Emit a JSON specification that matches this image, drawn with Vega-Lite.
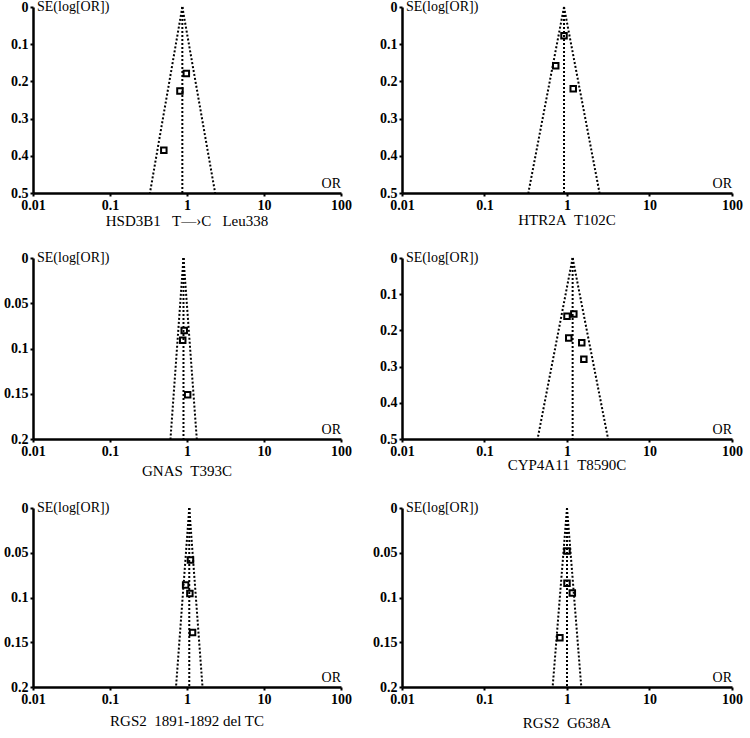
{
  "$schema": "https://vega.github.io/schema/vega-lite/v6.json",
  "padding": {"left": 3, "top": 0, "right": 5, "bottom": 3},
  "background": "white",
  "datasets": {
    "funnel": [
      {"panel": 1, "side": "L", "or": 0.87, "se": 0}, {"panel": 1, "side": "L", "or": 0.33, "se": 0.5},
      {"panel": 1, "side": "C", "or": 0.87, "se": 0}, {"panel": 1, "side": "C", "or": 0.87, "se": 0.5},
      {"panel": 1, "side": "R", "or": 0.87, "se": 0}, {"panel": 1, "side": "R", "or": 2.32, "se": 0.5},
      {"panel": 2, "side": "L", "or": 0.92, "se": 0}, {"panel": 2, "side": "L", "or": 0.34, "se": 0.5},
      {"panel": 2, "side": "C", "or": 0.92, "se": 0}, {"panel": 2, "side": "C", "or": 0.92, "se": 0.5},
      {"panel": 2, "side": "R", "or": 0.92, "se": 0}, {"panel": 2, "side": "R", "or": 2.48, "se": 0.5},
      {"panel": 3, "side": "L", "or": 0.9, "se": 0}, {"panel": 3, "side": "L", "or": 0.61, "se": 0.2},
      {"panel": 3, "side": "C", "or": 0.9, "se": 0}, {"panel": 3, "side": "C", "or": 0.9, "se": 0.2},
      {"panel": 3, "side": "R", "or": 0.9, "se": 0}, {"panel": 3, "side": "R", "or": 1.34, "se": 0.2},
      {"panel": 4, "side": "L", "or": 1.17, "se": 0}, {"panel": 4, "side": "L", "or": 0.44, "se": 0.5},
      {"panel": 4, "side": "C", "or": 1.17, "se": 0}, {"panel": 4, "side": "C", "or": 1.17, "se": 0.5},
      {"panel": 4, "side": "R", "or": 1.17, "se": 0}, {"panel": 4, "side": "R", "or": 3.15, "se": 0.5},
      {"panel": 5, "side": "L", "or": 1.07, "se": 0}, {"panel": 5, "side": "L", "or": 0.72, "se": 0.2},
      {"panel": 5, "side": "C", "or": 1.07, "se": 0}, {"panel": 5, "side": "C", "or": 1.07, "se": 0.2},
      {"panel": 5, "side": "R", "or": 1.07, "se": 0}, {"panel": 5, "side": "R", "or": 1.59, "se": 0.2},
      {"panel": 6, "side": "L", "or": 1.0, "se": 0}, {"panel": 6, "side": "L", "or": 0.67, "se": 0.2},
      {"panel": 6, "side": "C", "or": 1.0, "se": 0}, {"panel": 6, "side": "C", "or": 1.0, "se": 0.2},
      {"panel": 6, "side": "R", "or": 1.0, "se": 0}, {"panel": 6, "side": "R", "or": 1.49, "se": 0.2}
    ],
    "studies": [
      {"panel": 1, "or": 0.98, "se": 0.179}, {"panel": 1, "or": 0.81, "se": 0.226}, {"panel": 1, "or": 0.5, "se": 0.385},
      {"panel": 2, "or": 0.92, "se": 0.077}, {"panel": 2, "or": 0.73, "se": 0.158}, {"panel": 2, "or": 1.19, "se": 0.22},
      {"panel": 3, "or": 0.92, "se": 0.08}, {"panel": 3, "or": 0.88, "se": 0.091}, {"panel": 3, "or": 1.02, "se": 0.151},
      {"panel": 4, "or": 1.0, "se": 0.161}, {"panel": 4, "or": 1.21, "se": 0.155}, {"panel": 4, "or": 1.05, "se": 0.221}, {"panel": 4, "or": 1.51, "se": 0.234}, {"panel": 4, "or": 1.6, "se": 0.28},
      {"panel": 5, "or": 1.11, "se": 0.058}, {"panel": 5, "or": 0.96, "se": 0.086}, {"panel": 5, "or": 1.09, "se": 0.0955}, {"panel": 5, "or": 1.18, "se": 0.139},
      {"panel": 6, "or": 1.0, "se": 0.048}, {"panel": 6, "or": 1.0, "se": 0.084}, {"panel": 6, "or": 1.16, "se": 0.095}, {"panel": 6, "or": 0.82, "se": 0.145}
    ]
  },
  "columns": 2,
  "align": "each",
  "spacing": {"row": 22, "column": 20},
  "concat": [
    {
      "width": 308, "height": 186,
      "title": {"text": "HSD3B1\u00a0\u00a0\u00a0T\u2014\u203aC\u00a0\u00a0\u00a0Leu338", "orient": "bottom", "offset": 2},
      "encoding": {
        "x": {"field": "or", "type": "quantitative", "scale": {"type": "log", "domain": [0.01, 100]}, "axis": {"values": [0.01, 0.1, 1, 10, 100], "format": "~g", "labelFlush": false, "title": null}},
        "y": {"field": "se", "type": "quantitative", "scale": {"domain": [0, 0.5], "reverse": true, "nice": false, "zero": false}, "axis": {"values": [0, 0.1, 0.2, 0.3, 0.4, 0.5], "format": "~g", "labelOverlap": false, "title": null}}
      },
      "layer": [
        {"data": {"name": "funnel"}, "transform": [{"filter": "datum.panel == 1"}],
         "mark": {"type": "line", "strokeDash": [2, 2], "strokeWidth": 2, "color": "black"},
         "encoding": {"detail": {"field": "side"}, "order": {"field": "se"}}},
        {"data": {"name": "studies"}, "transform": [{"filter": "datum.panel == 1"}],
         "mark": {"type": "point", "shape": "square", "filled": false, "color": "black", "size": 30, "strokeWidth": 2, "opacity": 1}},
        {"data": {"values": [{"or": 0.01, "se": 0}]}, "mark": {"type": "text", "align": "left", "baseline": "middle", "dx": 4},
         "encoding": {"text": {"value": "SE(log[OR])"}}},
        {"data": {"values": [{"or": 100, "se": 0.5}]}, "mark": {"type": "text", "align": "right", "baseline": "bottom", "dy": -2},
         "encoding": {"text": {"value": "OR"}}}
      ]
    },
    {
      "width": 330, "height": 186,
      "title": {"text": "HTR2A\u00a0\u00a0T102C", "orient": "bottom", "offset": 1},
      "encoding": {
        "x": {"field": "or", "type": "quantitative", "scale": {"type": "log", "domain": [0.01, 100]}, "axis": {"values": [0.01, 0.1, 1, 10, 100], "format": "~g", "labelFlush": false, "title": null}},
        "y": {"field": "se", "type": "quantitative", "scale": {"domain": [0, 0.5], "reverse": true, "nice": false, "zero": false}, "axis": {"values": [0, 0.1, 0.2, 0.3, 0.4, 0.5], "format": "~g", "labelOverlap": false, "title": null}}
      },
      "layer": [
        {"data": {"name": "funnel"}, "transform": [{"filter": "datum.panel == 2"}],
         "mark": {"type": "line", "strokeDash": [2, 2], "strokeWidth": 2, "color": "black"},
         "encoding": {"detail": {"field": "side"}, "order": {"field": "se"}}},
        {"data": {"name": "studies"}, "transform": [{"filter": "datum.panel == 2"}],
         "mark": {"type": "point", "shape": "square", "filled": false, "color": "black", "size": 30, "strokeWidth": 2, "opacity": 1}},
        {"data": {"values": [{"or": 0.01, "se": 0}]}, "mark": {"type": "text", "align": "left", "baseline": "middle", "dx": 4},
         "encoding": {"text": {"value": "SE(log[OR])"}}},
        {"data": {"values": [{"or": 100, "se": 0.5}]}, "mark": {"type": "text", "align": "right", "baseline": "bottom", "dy": -2},
         "encoding": {"text": {"value": "OR"}}}
      ]
    },
    {
      "width": 308, "height": 181,
      "title": {"text": "GNAS\u00a0\u00a0T393C", "orient": "bottom", "offset": 6},
      "encoding": {
        "x": {"field": "or", "type": "quantitative", "scale": {"type": "log", "domain": [0.01, 100]}, "axis": {"values": [0.01, 0.1, 1, 10, 100], "format": "~g", "labelFlush": false, "title": null}},
        "y": {"field": "se", "type": "quantitative", "scale": {"domain": [0, 0.2], "reverse": true, "nice": false, "zero": false}, "axis": {"values": [0, 0.05, 0.1, 0.15, 0.2], "format": "~g", "labelOverlap": false, "title": null}}
      },
      "layer": [
        {"data": {"name": "funnel"}, "transform": [{"filter": "datum.panel == 3"}],
         "mark": {"type": "line", "strokeDash": [2, 2], "strokeWidth": 2, "color": "black"},
         "encoding": {"detail": {"field": "side"}, "order": {"field": "se"}}},
        {"data": {"name": "studies"}, "transform": [{"filter": "datum.panel == 3"}],
         "mark": {"type": "point", "shape": "square", "filled": false, "color": "black", "size": 30, "strokeWidth": 2, "opacity": 1}},
        {"data": {"values": [{"or": 0.01, "se": 0}]}, "mark": {"type": "text", "align": "left", "baseline": "middle", "dx": 4},
         "encoding": {"text": {"value": "SE(log[OR])"}}},
        {"data": {"values": [{"or": 100, "se": 0.2}]}, "mark": {"type": "text", "align": "right", "baseline": "bottom", "dy": -2},
         "encoding": {"text": {"value": "OR"}}}
      ]
    },
    {
      "width": 330, "height": 181,
      "title": {"text": "CYP4A11\u00a0\u00a0T8590C", "orient": "bottom", "offset": 0},
      "encoding": {
        "x": {"field": "or", "type": "quantitative", "scale": {"type": "log", "domain": [0.01, 100]}, "axis": {"values": [0.01, 0.1, 1, 10, 100], "format": "~g", "labelFlush": false, "title": null}},
        "y": {"field": "se", "type": "quantitative", "scale": {"domain": [0, 0.5], "reverse": true, "nice": false, "zero": false}, "axis": {"values": [0, 0.1, 0.2, 0.3, 0.4, 0.5], "format": "~g", "labelOverlap": false, "title": null}}
      },
      "layer": [
        {"data": {"name": "funnel"}, "transform": [{"filter": "datum.panel == 4"}],
         "mark": {"type": "line", "strokeDash": [2, 2], "strokeWidth": 2, "color": "black"},
         "encoding": {"detail": {"field": "side"}, "order": {"field": "se"}}},
        {"data": {"name": "studies"}, "transform": [{"filter": "datum.panel == 4"}],
         "mark": {"type": "point", "shape": "square", "filled": false, "color": "black", "size": 30, "strokeWidth": 2, "opacity": 1}},
        {"data": {"values": [{"or": 0.01, "se": 0}]}, "mark": {"type": "text", "align": "left", "baseline": "middle", "dx": 4},
         "encoding": {"text": {"value": "SE(log[OR])"}}},
        {"data": {"values": [{"or": 100, "se": 0.5}]}, "mark": {"type": "text", "align": "right", "baseline": "bottom", "dy": -2},
         "encoding": {"text": {"value": "OR"}}}
      ]
    },
    {
      "width": 308, "height": 179,
      "title": {"text": "RGS2\u00a0\u00a01891-1892 del TC", "orient": "bottom", "offset": 8},
      "encoding": {
        "x": {"field": "or", "type": "quantitative", "scale": {"type": "log", "domain": [0.01, 100]}, "axis": {"values": [0.01, 0.1, 1, 10, 100], "format": "~g", "labelFlush": false, "title": null}},
        "y": {"field": "se", "type": "quantitative", "scale": {"domain": [0, 0.2], "reverse": true, "nice": false, "zero": false}, "axis": {"values": [0, 0.05, 0.1, 0.15, 0.2], "format": "~g", "labelOverlap": false, "title": null}}
      },
      "layer": [
        {"data": {"name": "funnel"}, "transform": [{"filter": "datum.panel == 5"}],
         "mark": {"type": "line", "strokeDash": [2, 2], "strokeWidth": 2, "color": "black"},
         "encoding": {"detail": {"field": "side"}, "order": {"field": "se"}}},
        {"data": {"name": "studies"}, "transform": [{"filter": "datum.panel == 5"}],
         "mark": {"type": "point", "shape": "square", "filled": false, "color": "black", "size": 30, "strokeWidth": 2, "opacity": 1}},
        {"data": {"values": [{"or": 0.01, "se": 0}]}, "mark": {"type": "text", "align": "left", "baseline": "middle", "dx": 4},
         "encoding": {"text": {"value": "SE(log[OR])"}}},
        {"data": {"values": [{"or": 100, "se": 0.2}]}, "mark": {"type": "text", "align": "right", "baseline": "bottom", "dy": -2},
         "encoding": {"text": {"value": "OR"}}}
      ]
    },
    {
      "width": 330, "height": 179,
      "title": {"text": "RGS2\u00a0\u00a0G638A", "orient": "bottom", "offset": 10},
      "encoding": {
        "x": {"field": "or", "type": "quantitative", "scale": {"type": "log", "domain": [0.01, 100]}, "axis": {"values": [0.01, 0.1, 1, 10, 100], "format": "~g", "labelFlush": false, "title": null}},
        "y": {"field": "se", "type": "quantitative", "scale": {"domain": [0, 0.2], "reverse": true, "nice": false, "zero": false}, "axis": {"values": [0, 0.05, 0.1, 0.15, 0.2], "format": "~g", "labelOverlap": false, "title": null}}
      },
      "layer": [
        {"data": {"name": "funnel"}, "transform": [{"filter": "datum.panel == 6"}],
         "mark": {"type": "line", "strokeDash": [2, 2], "strokeWidth": 2, "color": "black"},
         "encoding": {"detail": {"field": "side"}, "order": {"field": "se"}}},
        {"data": {"name": "studies"}, "transform": [{"filter": "datum.panel == 6"}],
         "mark": {"type": "point", "shape": "square", "filled": false, "color": "black", "size": 30, "strokeWidth": 2, "opacity": 1}},
        {"data": {"values": [{"or": 0.01, "se": 0}]}, "mark": {"type": "text", "align": "left", "baseline": "middle", "dx": 4},
         "encoding": {"text": {"value": "SE(log[OR])"}}},
        {"data": {"values": [{"or": 100, "se": 0.2}]}, "mark": {"type": "text", "align": "right", "baseline": "bottom", "dy": -2},
         "encoding": {"text": {"value": "OR"}}}
      ]
    }
  ],
  "config": {
    "view": {"stroke": null},
    "axis": {
      "grid": false, "domainColor": "black", "domainWidth": 2.5, "tickColor": "black", "tickWidth": 2, "tickSize": 3,
      "labelFont": "Liberation Serif", "labelFontWeight": "bold", "labelFontSize": 14, "labelColor": "black", "labelPadding": 2,
      "labelOverlap": false
    },
    "text": {"font": "Liberation Serif", "fontSize": 14, "color": "black"},
    "title": {"font": "Liberation Serif", "fontSize": 15, "fontWeight": "normal", "color": "black"}
  }
}
